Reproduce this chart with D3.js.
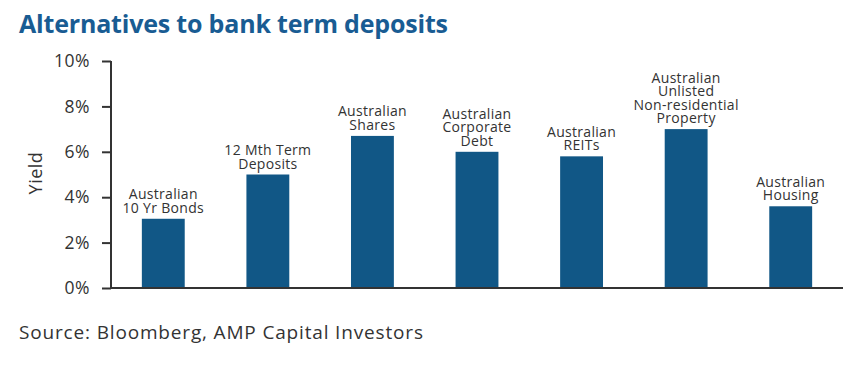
<!DOCTYPE html>
<html>
<head>
<meta charset="utf-8">
<script src="https://cdn.jsdelivr.net/npm/d3@7"></script>
<style>
  body { margin: 0; background: #fff; }
  svg { display: block; }
</style>
</head>
<body>
<script>
// chart data
var categories = ["Australian\n10 Yr Bonds", "12 Mth Term\nDeposits", "Australian\nShares",
  "Australian\nCorporate\nDebt", "Australian\nREITs", "Australian\nUnlisted\nNon-residential\nProperty",
  "Australian\nHousing"];
var yields = [3.05, 5.0, 6.7, 6.0, 5.8, 7.0, 3.6];
var yTicks = [0, 2, 4, 6, 8, 10];

var width = 867, height = 373;
var margin = {left: 111, right: 24, top: 61, bottom: 85};

var svg = d3.select("body").append("svg")
    .attr("width", width)
    .attr("height", height)
    .style("font-family", "'Open Sans', sans-serif");

svg.append("text")
    .attr("x", 19)
    .attr("y", 33)
    .attr("font-size", 25)
    .attr("font-weight", "bold")
    .attr("fill", "#195c93")
    .attr("textLength", 429)
    .text("Alternatives to bank term deposits");

var x = d3.scaleBand()
    .domain(categories)
    .range([margin.left, width - margin.right])
    .paddingInner(0.59)
    .paddingOuter(0.295);

var y = d3.scaleLinear()
    .domain([0, 10])
    .range([height - margin.bottom, margin.top]);

//bars
svg.append("g")
    .selectAll("rect")
    .data(yields)
    .enter().append("rect")
    .attr("x", function (d, i) { return x(categories[i]); })
    .attr("y", function (d) { return y(d); })
    .attr("width", x.bandwidth())
    .attr("height", function (d) { return y(0) - y(d); })
    .attr("fill", "#115786");

//bar labels
var lineH = 13.5;
var labels = svg.append("g")
    .selectAll("text")
    .data(yields)
    .enter().append("text")
    .attr("text-anchor", "middle")
    .attr("font-size", 14)
    .attr("letter-spacing", 0.3)
    .attr("fill", "#333");

labels.each(function (d, i) {
    var lines = categories[i].split("\n");
    var t = d3.select(this);
    var cx = x(categories[i]) + x.bandwidth() / 2;
    var base = y(d) - 6 - (lines.length - 1) * lineH;
    lines.forEach(function (line, k) {
        t.append("tspan")
            .attr("x", cx)
            .attr("y", base + k * lineH)
            .text(line);
    });
});

//y axis
var yAxis = svg.append("g")
    .attr("transform", "translate(" + margin.left + ",0)")
    .call(d3.axisLeft(y).tickValues(yTicks).tickSize(9).tickPadding(12)
        .tickFormat(function (d) { return d + "%"; }));
yAxis.selectAll("path, line").attr("stroke", "#333").attr("stroke-width", 2);
yAxis.select(".domain").attr("d", "M0," + y(10) + "V" + y(0));
yAxis.selectAll("text")
    .attr("font-size", 17.5)
    .attr("fill", "#333")
    .attr("letter-spacing", 0.5)
    .style("font-family", "'Open Sans', sans-serif");

//x axis line
svg.append("line")
    .attr("x1", margin.left)
    .attr("x2", width - margin.right)
    .attr("y1", y(0))
    .attr("y2", y(0))
    .attr("stroke", "#333")
    .attr("stroke-width", 2);

svg.append("text")
    .attr("transform", "translate(42," + 173 + ") rotate(-90)")
    .attr("text-anchor", "middle")
    .attr("font-size", 18)
    .attr("letter-spacing", 0.5)
    .attr("fill", "#333")
    .text("Yield");

svg.append("text")
    .attr("x", 19)
    .attr("y", 339)
    .attr("font-size", 19)
    .attr("fill", "#333")
    .attr("textLength", 404)
    .text("Source: Bloomberg, AMP Capital Investors");
</script>
</body>
</html>
